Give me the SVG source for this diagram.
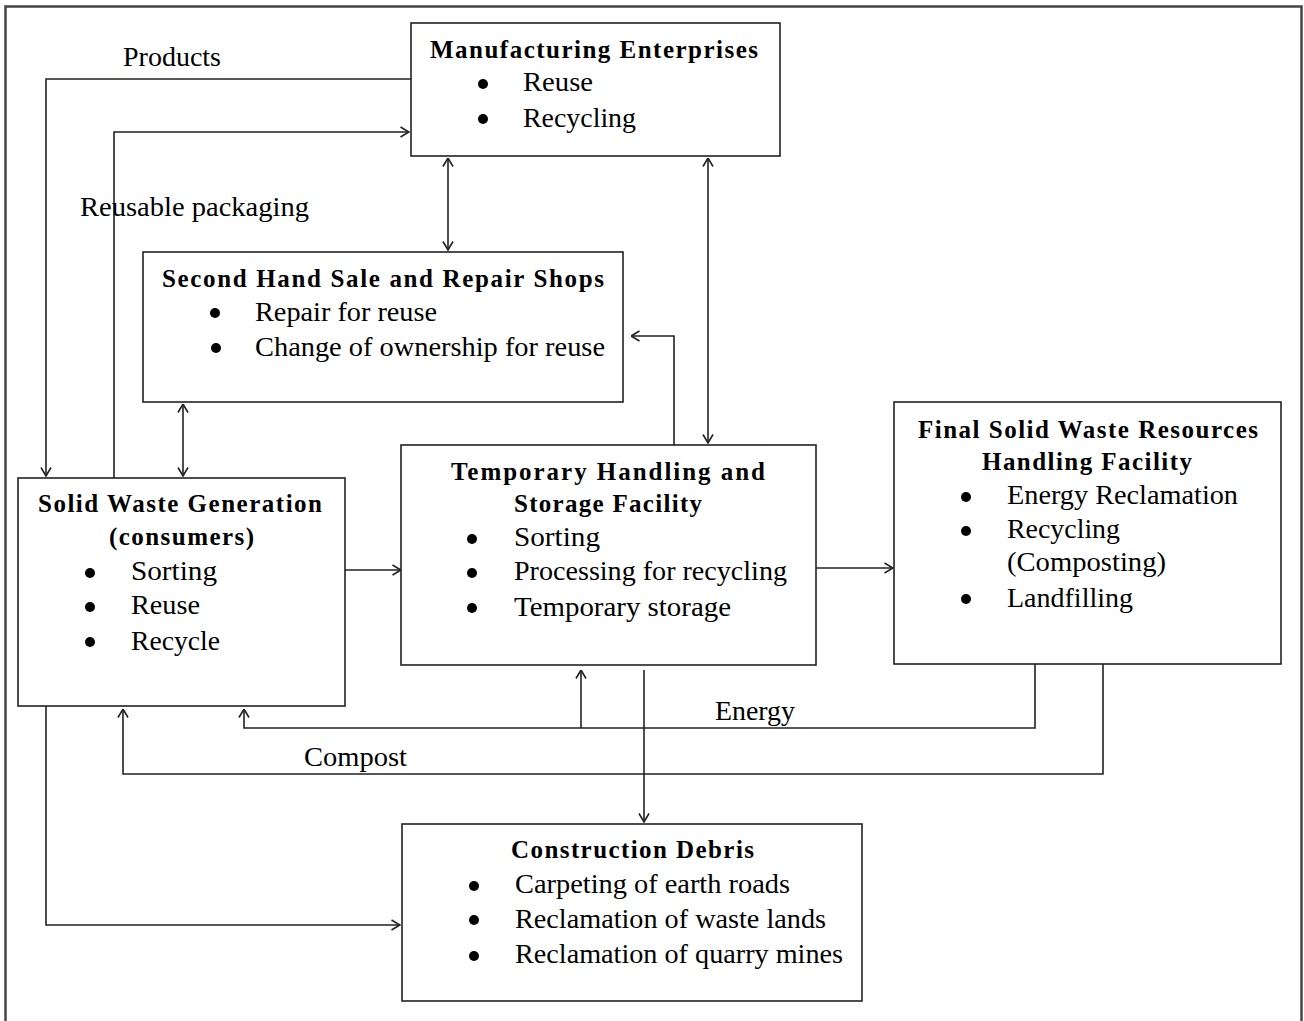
<svg xmlns="http://www.w3.org/2000/svg" width="1304" height="1021" viewBox="0 0 1304 1021">
<style>
.box{fill:#fff;stroke:#222;stroke-width:1.6}
.t{font-family:"Liberation Serif","Times New Roman",serif;font-size:27px;fill:#000}
.b{font-family:"Liberation Serif","Times New Roman",serif;font-size:25px;font-weight:bold;fill:#000}
.c{fill:none;stroke:#222;stroke-width:1.6}
.dot{fill:#000}
</style>
<defs>
<marker id="ah" viewBox="0 0 10 12" refX="9.5" refY="6" markerWidth="10" markerHeight="12" markerUnits="userSpaceOnUse" orient="auto-start-reverse">
<path d="M1,1 L9.5,6 L1,11" fill="none" stroke="#222" stroke-width="1.6"/>
</marker>
</defs>
<rect x="0" y="0" width="1304" height="1021" fill="#fff"/>
<path d="M5.5,1030 V6.5 H1301.5 V1030" fill="none" stroke="#444" stroke-width="2.5"/>

<g id="connectors">
<path class="c" d="M411,79 H46 V476" marker-end="url(#ah)"/>
<path class="c" d="M114,478 V132 H409" marker-end="url(#ah)"/>
<path class="c" d="M448,158 V250" marker-start="url(#ah)" marker-end="url(#ah)"/>
<path class="c" d="M708,158 V443" marker-start="url(#ah)" marker-end="url(#ah)"/>
<path class="c" d="M674,445 V336 H631" marker-end="url(#ah)"/>
<path class="c" d="M183,404 V476" marker-start="url(#ah)" marker-end="url(#ah)"/>
<path class="c" d="M345,570 H401" marker-end="url(#ah)"/>
<path class="c" d="M816,568 H893" marker-end="url(#ah)"/>
<path class="c" d="M1035,664 V728 H244 V709" marker-end="url(#ah)"/>
<path class="c" d="M581,728 V670" marker-end="url(#ah)"/>
<path class="c" d="M1103,664 V774 H123 V709" marker-end="url(#ah)"/>
<path class="c" d="M644,670 V822" marker-end="url(#ah)"/>
<path class="c" d="M46,706 V925 H400" marker-end="url(#ah)"/>
<text class="t" x="123" y="66" textLength="98" lengthAdjust="spacingAndGlyphs">Products</text>
<text class="t" x="80" y="216" textLength="229" lengthAdjust="spacingAndGlyphs">Reusable packaging</text>
<text class="t" x="715" y="720" textLength="80" lengthAdjust="spacingAndGlyphs">Energy</text>
<text class="t" x="304" y="766" textLength="103" lengthAdjust="spacingAndGlyphs">Compost</text>
</g>

<g id="manufacturing">
<rect class="box" x="411" y="23" width="369" height="133"/>
<text class="b" x="430" y="58" textLength="328" lengthAdjust="spacing">Manufacturing Enterprises</text>
<circle class="dot" cx="483" cy="84" r="5"/>
<text class="t" x="523" y="91" textLength="70" lengthAdjust="spacingAndGlyphs">Reuse</text>
<circle class="dot" cx="483" cy="119" r="5"/>
<text class="t" x="523" y="127" textLength="113" lengthAdjust="spacingAndGlyphs">Recycling</text>
</g>

<g id="second-hand">
<rect class="box" x="143" y="252" width="480" height="150"/>
<text class="b" x="162" y="287" textLength="442" lengthAdjust="spacing">Second Hand Sale and Repair Shops</text>
<circle class="dot" cx="215" cy="313" r="5"/>
<text class="t" x="255" y="321" textLength="182" lengthAdjust="spacingAndGlyphs">Repair for reuse</text>
<circle class="dot" cx="216" cy="348" r="5"/>
<text class="t" x="255" y="356" textLength="350" lengthAdjust="spacingAndGlyphs">Change of ownership for reuse</text>
</g>

<g id="solid-waste">
<rect class="box" x="18" y="478" width="327" height="228"/>
<text class="b" x="38" y="512" textLength="284" lengthAdjust="spacing">Solid Waste Generation</text>
<text class="b" x="109" y="545" textLength="145" lengthAdjust="spacing">(consumers)</text>
<circle class="dot" cx="90" cy="573" r="5"/>
<text class="t" x="131" y="580" textLength="86" lengthAdjust="spacingAndGlyphs">Sorting</text>
<circle class="dot" cx="90" cy="607" r="5"/>
<text class="t" x="131" y="614" textLength="69" lengthAdjust="spacingAndGlyphs">Reuse</text>
<circle class="dot" cx="90" cy="642" r="5"/>
<text class="t" x="131" y="650" textLength="89" lengthAdjust="spacingAndGlyphs">Recycle</text>
</g>

<g id="temporary">
<rect class="box" x="401" y="445" width="415" height="220"/>
<text class="b" x="451" y="480" textLength="314" lengthAdjust="spacing">Temporary Handling and</text>
<text class="b" x="514" y="512" textLength="188" lengthAdjust="spacing">Storage Facility</text>
<circle class="dot" cx="472" cy="539" r="5"/>
<text class="t" x="514" y="546" textLength="86" lengthAdjust="spacingAndGlyphs">Sorting</text>
<circle class="dot" cx="472" cy="573" r="5"/>
<text class="t" x="514" y="580" textLength="273" lengthAdjust="spacingAndGlyphs">Processing for recycling</text>
<circle class="dot" cx="472" cy="608" r="5"/>
<text class="t" x="514" y="616" textLength="217" lengthAdjust="spacingAndGlyphs">Temporary storage</text>
</g>

<g id="final">
<rect class="box" x="894" y="402" width="387" height="262"/>
<text class="b" x="918" y="438" textLength="340" lengthAdjust="spacing">Final Solid Waste Resources</text>
<text class="b" x="982" y="470" textLength="210" lengthAdjust="spacing">Handling Facility</text>
<circle class="dot" cx="966" cy="497" r="5"/>
<text class="t" x="1007" y="504" textLength="231" lengthAdjust="spacingAndGlyphs">Energy Reclamation</text>
<circle class="dot" cx="966" cy="531" r="5"/>
<text class="t" x="1007" y="538" textLength="113" lengthAdjust="spacingAndGlyphs">Recycling</text>
<text class="t" x="1007" y="571" textLength="159" lengthAdjust="spacingAndGlyphs">(Composting)</text>
<circle class="dot" cx="966" cy="599" r="5"/>
<text class="t" x="1007" y="607" textLength="126" lengthAdjust="spacingAndGlyphs">Landfilling</text>
</g>

<g id="construction">
<rect class="box" x="402" y="824" width="460" height="177"/>
<text class="b" x="511" y="858" textLength="243" lengthAdjust="spacing">Construction Debris</text>
<circle class="dot" cx="474" cy="886" r="5"/>
<text class="t" x="515" y="893" textLength="275" lengthAdjust="spacingAndGlyphs">Carpeting of earth roads</text>
<circle class="dot" cx="474" cy="920" r="5"/>
<text class="t" x="515" y="928" textLength="311" lengthAdjust="spacingAndGlyphs">Reclamation of waste lands</text>
<circle class="dot" cx="474" cy="956" r="5"/>
<text class="t" x="515" y="963" textLength="328" lengthAdjust="spacingAndGlyphs">Reclamation of quarry mines</text>
</g>
</svg>
